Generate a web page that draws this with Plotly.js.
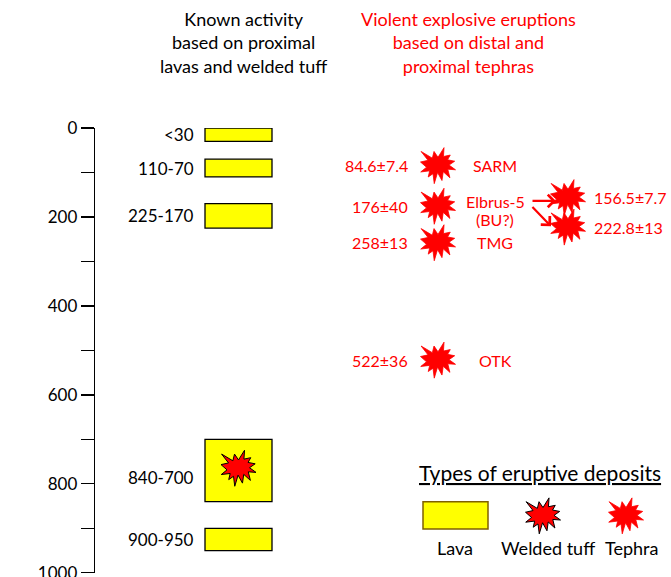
<!DOCTYPE html>
<html>
<head>
<meta charset="utf-8">
<script src="https://cdn.plot.ly/plotly-3.0.1.min.js"></script>
<style>html,body{margin:0;padding:0;background:#fff;}#chart{width:671px;height:577px;}</style>
</head>
<body>
<div id="chart"></div>
<script>
// ---- data ----
const lavaStart = [0, 70, 170, 700, 900];
const lavaEnd = [30, 110, 225, 840, 950];
const lavaLabels = ['<30', '110-70', '225-170', '840-700', '900-950'];
const weldedTuffAge = [765];
const tephraAge = [84.6, 176, 258, 522];
const tephraLabels = ['84.6±7.4', '176±40', '258±13', '522±36'];
const tephraNames = ['SARM', 'Elbrus-5<br>(BU?)', 'TMG', 'OTK'];
const distalAge = [156.5, 222.8];
const distalLabels = ['156.5±7.7', '222.8±13'];
const yTickVals = [0, 100, 200, 300, 400, 500, 600, 700, 800, 900, 1000];
const yTickText = ['0', '', '200', '', '400', '', '600', '', '800', '', '1000'];

// ---- layout helpers ----
const FONT = 'Lato, "Open Sans", sans-serif';
const RED = '#FF0000';
const TOP = 128, PH = 444;
function py(p) { return 1 - (p - TOP) / PH; }
const lavaX = 238.5, lavaW = 67;
const tephraX = 438, labelRightX = 410, nameX = 495;
const distalX = 568, distalLabelX = 592;

// Excel "Explosion 1" outline (21600 units)
const burst = [[10800,5800],[14522,0],[14155,5325],[18380,4457],[16702,7315],[21097,8137],[17607,10475],[21600,13290],[16837,12942],[18145,18095],[14020,14457],[13247,19737],[10532,14935],[8485,21600],[7715,15627],[4762,17617],[5667,13937],[135,14587],[3722,11775],[0,8615],[4627,7617],[370,2295],[7312,6320],[8352,2295]];
function burstPath(w, h) {
  return burst.map((p, i) => (i ? 'L' : 'M') + ((p[0] / 21600 - 0.5) * w).toFixed(2) + ',' + ((0.5 - p[1] / 21600) * h).toFixed(2)).join(' ') + ' Z';
}
function star(xa, ya, yref, outlined) {
  return {
    type: 'path', xref: 'x', yref: yref, xsizemode: 'pixel', ysizemode: 'pixel',
    xanchor: xa, yanchor: ya, path: burstPath(35, 36),
    fillcolor: RED,
    line: outlined ? {color: '#000', width: 1} : {color: RED, width: 0.8}
  };
}

const traces = [{
  type: 'bar',
  x: lavaStart.map(() => lavaX),
  base: lavaStart,
  y: lavaEnd.map((e, i) => e - lavaStart[i]),
  width: lavaW,
  marker: {color: '#FFFF00', line: {color: '#000', width: 1.3}},
  hoverinfo: 'skip'
}];

const shapes = [];
tephraAge.forEach(a => shapes.push(star(tephraX, a, 'y', false)));
distalAge.forEach(a => shapes.push(star(distalX, a, 'y', false)));
weldedTuffAge.forEach(a => shapes.push(star(lavaX, a, 'y', true)));
// legend
shapes.push({type: 'rect', xref: 'x', yref: 'paper', x0: 423, x1: 488, y0: py(528), y1: py(501),
  fillcolor: '#FFFF00', line: {color: '#7F6000', width: 1.5}});
shapes.push(star(543, py(515), 'paper', true));
shapes.push(star(626, py(515), 'paper', false));

const ann = [];
function txt(o) { return Object.assign({showarrow: false}, o); }
lavaStart.forEach((s, i) => ann.push(txt({x: 196, y: (s + lavaEnd[i]) / 2, xref: 'x', yref: 'y', xanchor: 'right', yanchor: 'middle',
  text: lavaLabels[i], font: {family: FONT, size: 17, color: '#000'}, yshift: i === 3 ? -7 : 0})));
tephraAge.forEach((a, i) => {
  ann.push(txt({x: labelRightX, y: a, xref: 'x', yref: 'y', xanchor: 'right', yanchor: 'middle',
    text: tephraLabels[i], font: {family: FONT, size: 16, color: RED}}));
  const lines = tephraNames[i].split('<br>');
  lines.forEach((ln, k) => ann.push(txt({x: nameX, y: a, xref: 'x', yref: 'y', xanchor: 'center', yanchor: 'middle',
    text: ln, font: {family: FONT, size: 16, color: RED}, yshift: lines.length > 1 ? 5 - 18 * k : 0})));
});
distalAge.forEach((a, i) => ann.push(txt({x: distalLabelX, y: a, xref: 'x', yref: 'y', xanchor: 'left', yanchor: 'middle',
  text: distalLabels[i], font: {family: FONT, size: 16, color: RED}})));
// arrows from Elbrus-5 to the distal tephras
ann.push({x: 556, y: tephraAge[1] - 12, ax: 531, ay: tephraAge[1] - 12, xref: 'x', yref: 'y', axref: 'x', ayref: 'y',
  text: '', showarrow: true, arrowhead: 4, arrowsize: 1.1, arrowwidth: 2.2, arrowcolor: RED, standoff: 0});
ann.push({x: 551, y: distalAge[1] - 2, ax: 531, ay: tephraAge[1] - 2, xref: 'x', yref: 'y', axref: 'x', ayref: 'y',
  text: '', showarrow: true, arrowhead: 4, arrowsize: 1.1, arrowwidth: 2.2, arrowcolor: RED, standoff: 0});
// headers
ann.push(txt({x: 243, y: py(43), xref: 'x', yref: 'paper', xanchor: 'center', yanchor: 'middle', align: 'center',
  text: 'Known activity<br>based on proximal<br>lavas and welded tuff', font: {family: FONT, size: 18, color: '#000'}}));
ann.push(txt({x: 468, y: py(43), xref: 'x', yref: 'paper', xanchor: 'center', yanchor: 'middle', align: 'center',
  text: 'Violent explosive eruptions<br>based on distal and<br>proximal tephras', font: {family: FONT, size: 18, color: RED}}));
// axis title
ann.push(txt({x: 27, y: py(356), xref: 'x', yref: 'paper', xanchor: 'center', yanchor: 'middle', textangle: -90,
  text: 'Age (ka)', font: {family: FONT, size: 19, color: '#000'}}));
// legend text
ann.push(txt({x: 540, y: py(472), xref: 'x', yref: 'paper', xanchor: 'center', yanchor: 'middle',
  text: 'Types of eruptive deposits', font: {family: FONT, size: 21, color: '#000', lineposition: 'under'}}));
[['Lava', 455], ['Welded tuff', 548], ['Tephra', 631]].forEach(l => ann.push(txt({x: l[1], y: py(547), xref: 'x', yref: 'paper',
  xanchor: 'center', yanchor: 'middle', text: l[0], font: {family: FONT, size: 18, color: '#000'}})));

const layout = {
  width: 671, height: 577,
  margin: {l: 95, r: 0, t: 128, b: 4},
  paper_bgcolor: '#fff', plot_bgcolor: 'rgba(0,0,0,0)',
  showlegend: false,
  xaxis: {range: [95, 671], visible: false, fixedrange: true},
  yaxis: {range: [1000.5, 0], tickvals: yTickVals, ticktext: yTickText, ticks: 'outside', ticklen: 13, tickwidth: 1.3,
    tickcolor: '#000', showline: true, linecolor: '#000', linewidth: 1.3, showgrid: false, zeroline: false,
    tickfont: {family: FONT, size: 17, color: '#000'}, fixedrange: true, ticklabeloverflow: 'allow'},
  shapes: shapes,
  annotations: ann
};
Plotly.newPlot('chart', traces, layout, {displayModeBar: false, staticPlot: true});
</script>
</body>
</html>
